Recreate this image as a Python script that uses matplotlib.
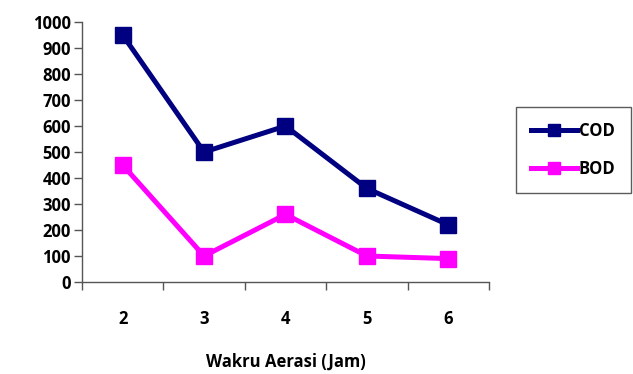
import matplotlib
matplotlib.use("Agg")
from matplotlib import pyplot as plt
import numpy as np

plt.rcParams["font.family"] = ["Open Sans", "DejaVu Sans"]
plt.rcParams["font.weight"] = "bold"

hours = ["2", "3", "4", "5", "6"]
cod = [950, 500, 600, 360, 220]
bod = [450, 100, 260, 100, 90]

fig = plt.figure(figsize=(6.33, 3.74), dpi=100)
ax = fig.add_axes([0.1295, 0.246, 0.643, 0.695])

x = np.arange(len(hours))
ax.plot(x, cod, color="#000080", lw=3.6, marker="s", ms=11.5, label="COD")
ax.plot(x, bod, color="#FF00FF", lw=3.6, marker="s", ms=11.5, label="BOD")

ax.set_xlim(-0.5, len(hours) - 0.5)
ax.set_ylim(0, 1000)
ax.set_yticks(range(0, 1001, 100))
ax.set_xticks(x)
ax.set_xticklabels(hours)
ax.set_xticks(np.arange(-0.5, len(hours), 1), minor=True)
ax.tick_params(axis="x", which="major", length=0, pad=20, labelsize=12)
ax.tick_params(axis="x", which="minor", length=6, width=1, color="#555555")
ax.tick_params(axis="y", length=6, width=1, color="#555555", labelsize=12, pad=2)
for lbl in ax.get_xticklabels() + ax.get_yticklabels():
    lbl.set_fontweight("bold")

for s in ["top", "right"]:
    ax.spines[s].set_visible(False)
for s in ["left", "bottom"]:
    ax.spines[s].set_color("#555555")
    ax.spines[s].set_linewidth(1)

ax.set_xlabel("Wakru Aerasi (Jam)", fontsize=12, fontweight="bold", labelpad=18)

leg = ax.legend(loc="center left", bbox_to_anchor=(1.045, 0.508), frameon=True,
                fancybox=False, edgecolor="#333333", fontsize=12,
                handlelength=2.8, labelspacing=1.2, markerscale=0.75,
                borderpad=0.9, handletextpad=0.1)
leg.get_frame().set_linewidth(1)
for t in leg.get_texts():
    t.set_fontweight("bold")

fig.savefig("out.png", dpi=100)
